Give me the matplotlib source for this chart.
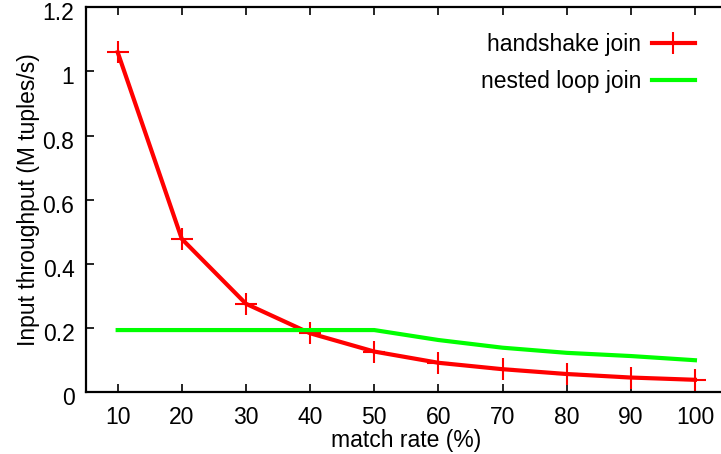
import matplotlib
matplotlib.use("Agg")
import matplotlib.pyplot as plt
from matplotlib.transforms import ScaledTranslation

RED, GREEN, INK = "#ff0000", "#00ff00", "#000000"

match_rate = [10, 20, 30, 40, 50, 60, 70, 80, 90, 100]
handshake = [1.06, 0.478, 0.276, 0.184, 0.127, 0.092, 0.072, 0.057, 0.046, 0.039]
nested_loop = [0.194, 0.194, 0.194, 0.194, 0.194, 0.163, 0.139, 0.123, 0.113, 0.100]
y_ticks = [0, 0.2, 0.4, 0.6, 0.8, 1.0, 1.2]
y_labels = ["0", "0.2", "0.4", "0.6", "0.8", "1", "1.2"]

plt.rcParams["font.family"] = ["Liberation Sans", "DejaVu Sans"]
FS = 16.5

W, H = 721, 454
fig = plt.figure(figsize=(W / 100, H / 100), dpi=100)
# plot box runs a little past the right edge of the canvas (xrange 5..105)
ax = fig.add_axes([85.6 / W, (H - 392.3) / H, (727 - 85.6) / W, (392.3 - 7.3) / H])

ax.plot(match_rate, handshake, color=RED, linewidth=3, marker="+",
        markersize=16, markeredgewidth=1.5, label="handshake join")
ax.plot(match_rate, nested_loop, color=GREEN, linewidth=3,
        label="nested loop join")

ax.set_xlim(5, 105)
ax.set_ylim(0, 1.2)
ax.set_xticks(match_rate)
ax.set_yticks(y_ticks)
ax.set_yticklabels(y_labels)

for side in ("left", "bottom", "top", "right"):
    ax.spines[side].set_linewidth(1.6)
    ax.spines[side].set_color(INK)
ax.tick_params(direction="in", length=6, width=1.2, labelsize=FS,
               colors=INK, top=True, right=False)
ax.tick_params(axis="x", pad=10)
ax.tick_params(axis="y", pad=8)

# y tick labels sit a few pixels below their ticks
shift = ScaledTranslation(0, -4 / 100, fig.dpi_scale_trans)
for lbl in ax.get_yticklabels():
    lbl.set_transform(lbl.get_transform() + shift)

ax.set_xlabel("match rate (%)", fontsize=FS, labelpad=0)
ax.set_ylabel("Input throughput (M tuples/s)", fontsize=FS, labelpad=2)

ax.legend(loc="upper right", bbox_to_anchor=(695 / W, 1 - 33 / H),
          bbox_transform=fig.transFigure, frameon=False, markerfirst=False,
          fontsize=FS, handlelength=1.88, handletextpad=0.48,
          labelspacing=0.6, borderpad=0, borderaxespad=0)

fig.savefig("out.png", dpi=100)
